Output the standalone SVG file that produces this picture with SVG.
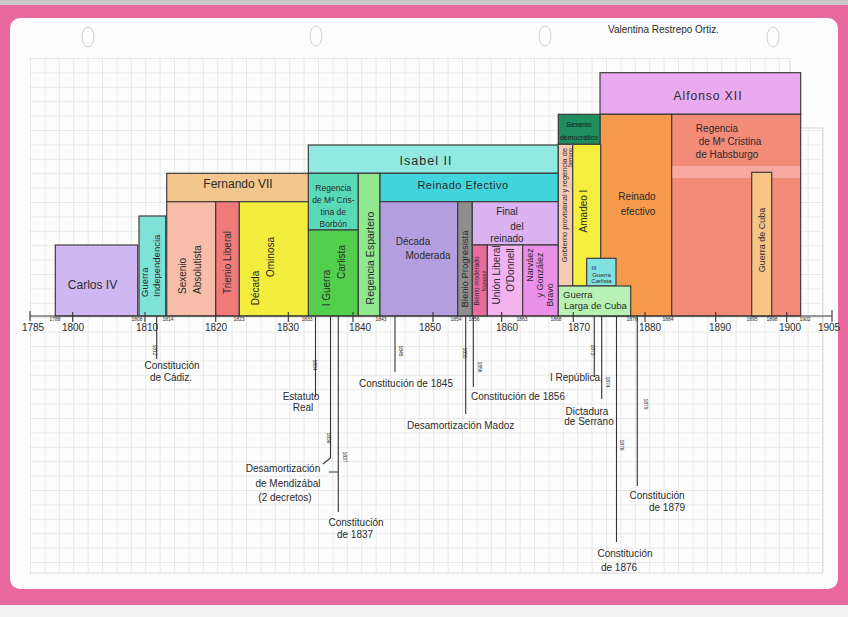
<svg xmlns="http://www.w3.org/2000/svg" width="848" height="617" viewBox="0 0 848 617">
<defs>
<pattern id="grid" x="30" y="58" width="14.4" height="14.4" patternUnits="userSpaceOnUse">
<path d="M0 0H14.4M0 0V14.4" fill="none" stroke="#d2d2d2" stroke-width="0.9"/>
</pattern>
<style>
.box{stroke:#3c3c3c;stroke-width:1.2}
.t{font-family:"Liberation Sans",Arial,sans-serif;fill:#2b2b2b;font-size:10px}
.c{text-anchor:middle}
.s{text-anchor:start}
.e{text-anchor:end}
.yr{font-size:5px}
.maj{font-size:10px}
.ln{stroke:#333;stroke-width:1.1;fill:none}
.hole{fill:none;stroke:#cfcfcf;stroke-width:1}
</style>
</defs>
<rect x="0" y="0" width="848" height="617" fill="#e9689e"/>
<rect x="0" y="0" width="848" height="5" fill="#c9c9c9"/>
<rect x="0" y="605" width="848" height="12" fill="#f2f2f2"/>
<rect x="10" y="18" width="828" height="571" rx="10" fill="#fdfdfd"/>
<rect x="30" y="58" width="760" height="515" fill="url(#grid)"/>
<rect x="790" y="128" width="33" height="445" fill="url(#grid)"/>
<path d="M790 58V128H823V573M30 573H823" fill="none" stroke="#d2d2d2" stroke-width="0.9"/>
<g id="holes">
<ellipse class="hole" cx="88" cy="37" rx="6" ry="10"/>
<ellipse class="hole" cx="316" cy="36" rx="6" ry="10"/>
<ellipse class="hole" cx="545" cy="36" rx="6" ry="10"/>
<ellipse class="hole" cx="773" cy="37" rx="6" ry="10"/>
</g>
<text class="t s" x="608" y="33" style="font-size:10px">Valentina Restrepo Ortiz.</text>

<g id="carlos-iv"><rect class="box" x="55.3" y="245" width="82.4" height="71" fill="#cfb8f2"/><text class="t c" x="92.5" y="289" style="font-size:12px">Carlos IV</text></g>
<g id="guerra-independencia"><rect class="box" x="139" y="216" width="26.7" height="100" fill="#7fe2d8"/>
<text class="t s" transform="rotate(-90 148 297)" x="148" y="297" style="font-size:9.5px">Guerra</text>
<text class="t s" transform="rotate(-90 159.5 297)" x="159.5" y="297" style="font-size:9.5px">Independencia</text></g>
<g id="fernando-vii"><rect class="box" x="166.7" y="173.3" width="142" height="28.4" fill="#f2c68c"/><text class="t c" x="238" y="187.5" style="font-size:12px">Fernando VII</text></g>
<g id="sexenio-absolutista"><rect class="box" x="166.7" y="201.7" width="49" height="114.3" fill="#f7bda9"/>
<text class="t s" transform="rotate(-90 185.5 294)" x="185.5" y="294">Sexenio</text>
<text class="t s" transform="rotate(-90 200.5 294)" x="200.5" y="294">Absolutista</text></g>
<g id="trienio-liberal"><rect class="box" x="215.7" y="201.7" width="23.6" height="114.3" fill="#f27a7a"/>
<text class="t s" transform="rotate(-90 230.5 294)" x="230.5" y="294">Trienio Liberal</text></g>
<g id="decada-ominosa"><rect class="box" x="239.3" y="201.7" width="69.4" height="114.3" fill="#f3ed3e"/>
<text class="t c" transform="rotate(-90 258.5 288)" x="258.5" y="288">Década</text>
<text class="t c" transform="rotate(-90 273.5 257)" x="273.5" y="257">Ominosa</text></g>

<g id="isabel-ii"><rect class="box" x="308.3" y="145" width="250" height="28.3" fill="#92e9e1"/><text class="t c" x="426" y="165" style="font-size:12.5px;letter-spacing:1px">Isabel II</text></g>
<g id="regencia-borbon"><rect class="box" x="308.3" y="173.3" width="50" height="56.7" fill="#58d9b8"/>
<text class="t c" x="333.3" y="191" style="font-size:8.5px">Regencia</text>
<text class="t c" x="333.3" y="203" style="font-size:8.5px">de Mª Cris-</text>
<text class="t c" x="333.3" y="215" style="font-size:8.5px">tina de</text>
<text class="t c" x="333.3" y="226.5" style="font-size:8.5px">Borbón</text></g>
<g id="i-guerra-carlista"><rect class="box" x="308.3" y="230" width="50" height="86" fill="#52cf4c"/>
<text class="t c" transform="rotate(-90 330 288)" x="330" y="288">I Guerra</text>
<text class="t c" transform="rotate(-90 345 262)" x="345" y="262">Carlista</text></g>
<g id="regencia-espartero"><rect class="box" x="358.3" y="173.3" width="21.7" height="142.7" fill="#90e98f"/>
<text class="t c" transform="rotate(-90 373.5 258)" x="373.5" y="258" style="font-size:10.5px">Regencia Espartero</text></g>
<g id="reinado-efectivo-isabel"><rect class="box" x="380" y="173.3" width="178.3" height="28.4" fill="#40d5dc"/><text class="t c" x="463" y="189" style="font-size:11px;letter-spacing:0.5px">Reinado Efectivo</text></g>
<g id="decada-moderada"><rect class="box" x="380" y="201.7" width="77.7" height="114.3" fill="#b39fe0"/>
<text class="t c" x="413" y="245">Década</text>
<text class="t c" x="428" y="259">Moderada</text></g>
<g id="bienio-progresista"><rect class="box" x="457.7" y="201.7" width="14.6" height="114.3" fill="#8e8e8e"/>
<text class="t c" transform="rotate(-90 468.3 269)" x="468.3" y="269" style="font-size:9.5px">Bienio Progresista</text></g>
<g id="final-del-reinado"><rect class="box" x="472.3" y="201.7" width="86" height="43.3" fill="#dab2f1"/>
<text class="t c" x="507" y="215">Final</text>
<text class="t c" x="517" y="230">del</text>
<text class="t c" x="507" y="242">reinado</text></g>
<g id="bienio-moderado"><rect class="box" x="472.3" y="245" width="15" height="71" fill="#e96c9c"/>
<text class="t c" transform="rotate(-90 479 281)" x="479" y="281" style="font-size:6.5px">Bienio moderado</text>
<text class="t c" transform="rotate(-90 485.5 281)" x="485.5" y="281" style="font-size:5.5px">Narváez</text></g>
<g id="union-liberal"><rect class="box" x="487.3" y="245" width="35.4" height="71" fill="#f3b3f1"/>
<text class="t c" transform="rotate(-90 500 275)" x="500" y="275">Unión Liberal</text>
<text class="t c" transform="rotate(-90 514 270)" x="514" y="270">O'Donnell</text></g>
<g id="narvaez-gonzalez-bravo"><rect class="box" x="522.7" y="245" width="35.6" height="71" fill="#eb90e9"/>
<text class="t c" transform="rotate(-90 533 265)" x="533" y="265" style="font-size:9px">Narváez</text>
<text class="t c" transform="rotate(-90 543 275)" x="543" y="275" style="font-size:9px">y González</text>
<text class="t c" transform="rotate(-90 553 295)" x="553" y="295" style="font-size:9px">Bravo</text></g>

<g id="alfonso-xii"><rect class="box" x="600" y="72.7" width="200.7" height="41.6" fill="#e9aaef"/><text class="t c" x="708" y="100" style="font-size:12px;letter-spacing:1px">Alfonso XII</text></g>
<g id="reinado-efectivo-alfonso"><rect class="box" x="600" y="114.3" width="71.7" height="201.7" fill="#f59a4a"/>
<text class="t c" x="637" y="200">Reinado</text>
<text class="t c" x="638" y="215">efectivo</text></g>
<g id="regencia-habsburgo"><rect class="box" x="671.7" y="114.3" width="129" height="201.7" fill="#f38b79"/>
<rect x="672.5" y="166" width="127.5" height="12" fill="#f7a9a0"/>
<text class="t c" x="717" y="132">Regencia</text>
<text class="t c" x="730" y="145">de Mª Cristina</text>
<text class="t c" x="727" y="158">de Habsburgo</text></g>
<g id="guerra-de-cuba"><rect class="box" x="751.7" y="172.3" width="20" height="143.7" fill="#f6c586"/>
<text class="t c" transform="rotate(-90 765 240)" x="765" y="240" style="font-size:9px">Guerra de Cuba</text></g>

<g id="sexenio-democratico"><rect class="box" x="558.3" y="114.3" width="41.7" height="30" fill="#1f8d5e"/>
<text class="t c" x="579" y="127" style="font-size:7px;fill:#1a1a1a">Sexenio</text>
<text class="t c" x="579" y="140" style="font-size:7px;fill:#1a1a1a">democrático</text></g>
<g id="gobierno-provisional"><rect class="box" x="558.3" y="144.3" width="14.4" height="141.7" fill="#f7cab6"/>
<text class="t e" transform="rotate(-90 566.5 148)" x="566.5" y="148" style="font-size:7.4px">Gobierno provisional y regencia de</text>
<text class="t e" transform="rotate(-90 572 148)" x="572" y="148" style="font-size:5.5px">Serrano</text></g>
<g id="amadeo-i"><rect class="box" x="572.7" y="144.3" width="28" height="141.7" fill="#f5ee3e"/>
<text class="t c" transform="rotate(-90 587 211)" x="587" y="211">Amadeo I</text></g>
<g id="iii-guerra-carlista"><rect class="box" x="586.7" y="258.3" width="29.3" height="27.7" fill="#82e1e1"/>
<text class="t c" x="594" y="270" style="font-size:6px">III</text>
<text class="t c" x="601.5" y="276.5" style="font-size:6px">Guerra</text>
<text class="t c" x="601.5" y="283" style="font-size:6px">Carlista</text></g>
<g id="guerra-larga-cuba"><rect class="box" x="558.3" y="286" width="72.4" height="30" fill="#b7f1b3"/>
<text class="t s" x="563" y="298" style="font-size:9.5px">Guerra</text>
<text class="t s" x="564" y="309" style="font-size:9.5px">Larga de Cuba</text></g>

<g id="axis">
<path class="ln" d="M30 316H832M30 311V321M832 310V322"/>
<path class="ln" d="M72.7 312V322M145 312V322M215.7 312V322M288.3 312V322M353 312V322M433 312V322M501.7 312V322M573.3 312V322M645 312V322M715.7 312V322M786.7 312V322" stroke-width="0.9"/>
<g class="t c maj">
<text x="33" y="331">1785</text><text x="73" y="331">1800</text><text x="147" y="331">1810</text><text x="216" y="331">1820</text><text x="288" y="331">1830</text><text x="360" y="331">1840</text><text x="430" y="331">1850</text><text x="507" y="331">1860</text><text x="579" y="331">1870</text><text x="650" y="331">1880</text><text x="720" y="331">1890</text><text x="790" y="331">1900</text><text x="829" y="331">1905</text>
</g>
<g class="t c yr">
<text x="55" y="321">1788</text><text x="137" y="321">1808</text><text x="168" y="321">1814</text><text x="239" y="321">1823</text><text x="307" y="321">1833</text><text x="381" y="321">1843</text><text x="456" y="321">1854</text><text x="474" y="321">1856</text><text x="522" y="321">1863</text><text x="556" y="321">1868</text><text x="632" y="321">1876</text><text x="668" y="321">1884</text><text x="752" y="321">1895</text><text x="772" y="321">1898</text><text x="805" y="321">1902</text>
</g>
</g>

<g id="connectors">
<path class="ln" d="M156.7 316V359"/>
<path class="ln" d="M315.5 316V397"/>
<path class="ln" d="M330.5 316V458L323 464"/>
<path class="ln" d="M338.3 316V512M329 472H338.3"/>
<path class="ln" d="M395 316V372"/>
<path class="ln" d="M465.7 316V414"/>
<path class="ln" d="M473.3 316V387"/>
<path class="ln" d="M594.3 316V377"/>
<path class="ln" d="M601.7 316V399"/>
<path class="ln" d="M616.5 316V542"/>
<path class="ln" d="M637.3 316V486"/>
</g>
<g id="drop-years" class="t c yr">
<text transform="rotate(90 153 350)" x="153" y="350">1812</text>
<text transform="rotate(90 313 365)" x="313" y="365">1834</text>
<text transform="rotate(90 327 438)" x="327" y="438">1836</text>
<text transform="rotate(90 343 457)" x="343" y="457">1837</text>
<text transform="rotate(90 399 351)" x="399" y="351">1845</text>
<text transform="rotate(90 463 353)" x="463" y="353">1855</text>
<text transform="rotate(90 478 367)" x="478" y="367">1856</text>
<text transform="rotate(90 591 350)" x="591" y="350">1873</text>
<text transform="rotate(90 606 382)" x="606" y="382">1874</text>
<text transform="rotate(90 620 445)" x="620" y="445">1876</text>
<text transform="rotate(90 644 404)" x="644" y="404">1879</text>
</g>
<g id="events" class="t">
<g id="ev-cadiz"><text class="c" x="172" y="369">Constitución</text><text class="c" x="171" y="381">de Cádiz.</text></g>
<g id="ev-estatuto"><text class="c" x="301" y="400">Estatuto</text><text class="c" x="303" y="411">Real</text></g>
<g id="ev-mendizabal"><text class="c" x="283" y="472">Desamortización</text><text class="c" x="288" y="487">de Mendizábal</text><text class="c" x="285" y="501">(2 decretos)</text></g>
<g id="ev-1837"><text class="c" x="356" y="526">Constitución</text><text class="c" x="355" y="538">de 1837</text></g>
<g id="ev-1845"><text class="s" x="359" y="387">Constitución de 1845</text></g>
<g id="ev-madoz"><text class="s" x="407" y="429">Desamortización Madoz</text></g>
<g id="ev-1856"><text class="s" x="471" y="400">Constitución de 1856</text></g>
<g id="ev-republica"><text class="e" x="600" y="381">I República</text></g>
<g id="ev-serrano"><text class="c" x="587" y="415">Dictadura</text><text class="c" x="589" y="425">de Serrano</text></g>
<g id="ev-1876"><text class="c" x="625" y="557">Constitución</text><text class="c" x="619" y="571">de 1876</text></g>
<g id="ev-1879"><text class="c" x="657" y="499">Constitución</text><text class="c" x="667" y="511">de 1879</text></g>
</g>
</svg>
